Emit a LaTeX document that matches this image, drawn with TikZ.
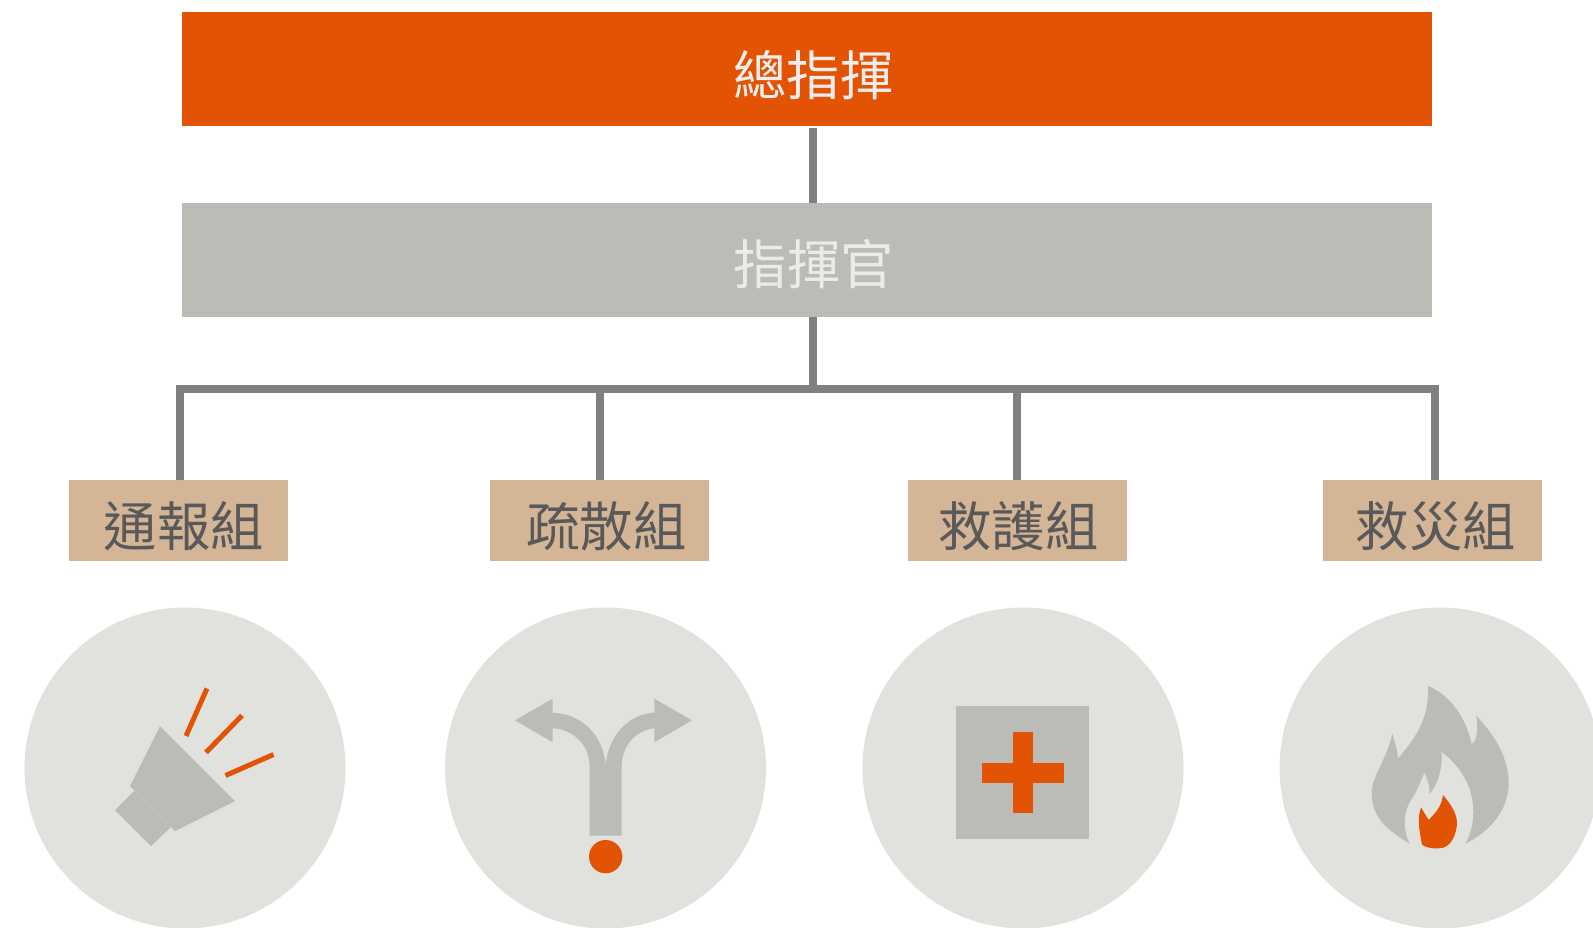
\documentclass[tikz,border=0pt]{standalone}
\usepackage{fontspec}
\setmainfont{Noto Sans CJK TC}
\definecolor{orng}{HTML}{E25303}
\definecolor{stone}{HTML}{BBBCB6}
\definecolor{pale}{HTML}{E1E2DE}
\definecolor{tan}{HTML}{D4B696}
\definecolor{linegray}{HTML}{7F7F7F}
\definecolor{inkgray}{HTML}{595959}
\tikzset{
  bar/.style={draw=none,minimum width=1250pt,minimum height=114pt,inner sep=0pt},
  bartext/.style={inner sep=0pt,font=\fontsize{53.4}{60}\selectfont},
  team/.style={draw=none,fill=tan,minimum width=219pt,minimum height=81pt,inner sep=0pt},
  teamtext/.style={inner sep=0pt,text=inkgray,font=\fontsize{53.4}{60}\selectfont},
  badge/.style={circle,fill=pale,draw=none,minimum size=321pt,inner sep=0pt},
  link/.style={draw=linegray,line width=8pt},
  ray/.style={draw=orng,line width=5pt},
  icon/.style={fill=stone,draw=none},
  accent/.style={fill=orng,draw=none}
}
\begin{document}
\begin{tikzpicture}[x=1pt,y=-1pt]
\useasboundingbox (0,0) rectangle (1593,928);
\clip (0,0) rectangle (1593,928);
\node[bar,fill=orng] (top) at (807,69) {};
\node[bar,fill=stone] (cmd) at (807,260) {};
\node[bartext,text=white!93!black] (toptext) at (813.5,75) {總指揮};
\node[bartext,text=white!92!black] (cmdtext) at (814,264.5) {指揮官};
\node[team,anchor=north west] (a) at (69,480) {};
\node[team,anchor=north west] (b) at (490,480) {};
\node[team,anchor=north west] (c) at (908,480) {};
\node[team,anchor=north west] (d) at (1323,480) {};
\node[teamtext] (at) at (184,526.5) {通報組};
\node[teamtext] (bt) at (606.5,526.5) {疏散組};
\node[teamtext] (ct) at (1018.5,526.5) {救護組};
\node[teamtext] (dt) at (1436,526.5) {救災組};
\coordinate (hub) at (813,389);
\draw[link] (813,128) -- (813,203);
\draw[link] (813,317) -- (hub);
\draw[link,line join=miter] (179.5,480) -- (179.5,389) -- (1434.5,389) -- (1434.5,480);
\draw[link] (599.5,389) -- (599.5,480);
\draw[link] (1017,389) -- (1017,480);
\node[badge] (c1) at (185,768) {};
\node[badge] (c2) at (605.5,768) {};
\node[badge] (c3) at (1023,768) {};
\node[badge] (c4) at (1440,768) {};
% megaphone
\fill[icon] (160,726) -- (235,801) -- (175,831) -- (130,786) -- cycle;
\fill[icon] (134.4,790.8) -- (170.8,827.2) -- (151,846) -- (115,810) -- cycle;
\draw[ray] (186,736) -- (207,688.5);
\draw[ray] (206,752.5) -- (242,715.5);
\draw[ray] (225.5,775.5) -- (273.5,754.5);
% split arrow
\begin{scope}[shift={(440,600)},x=0.3333pt,y=-0.3333pt]
\fill[icon] (225,361) -- (338,296) -- (338,338)
  .. controls (430,342) and (490,410) .. (497,495)
  .. controls (504,410) and (564,342) .. (643,338)
  -- (643,296) -- (756,361) -- (643,427) -- (643,385)
  .. controls (590,390) and (545,435) .. (545,500)
  -- (545,707) -- (449,707) -- (449,500)
  .. controls (449,435) and (400,388) .. (338,385)
  -- (338,427) -- cycle;
\fill[accent] (497,770) circle (50);
\end{scope}
% first aid
\fill[icon] (956,706) rectangle (1089,838.7);
\fill[accent] (1013,732) rectangle (1033,813.3);
\fill[accent] (982,762.7) rectangle (1063.7,782.7);
% flame
\begin{scope}[shift={(1270,600)},x=0.3333pt,y=-0.3333pt]
\fill[icon] (474,258)
  .. controls (530,280) and (585,340) .. (605,432)
  .. controls (622,420) and (625,390) .. (619,348)
  .. controls (680,410) and (716,480) .. (716,550)
  .. controls (716,630) and (660,695) .. (586,731)
  .. controls (615,680) and (615,620) .. (600,570)
  .. controls (585,525) and (550,480) .. (515,456)
  .. controls (518,500) and (505,555) .. (478,582)
  .. controls (480,560) and (473,535) .. (463,518)
  .. controls (450,550) and (438,580) .. (420,605)
  .. controls (400,640) and (398,690) .. (419,731)
  .. controls (350,690) and (305,650) .. (305,580)
  .. controls (305,530) and (345,490) .. (367,402)
  .. controls (375,425) and (382,450) .. (384,476)
  .. controls (430,420) and (480,360) .. (474,258) -- cycle;
\fill[accent] (519,585)
  .. controls (540,610) and (562,640) .. (561,672)
  .. controls (558,705) and (545,735) .. (520,743)
  .. controls (500,748) and (470,745) .. (456,734)
  .. controls (450,700) and (440,660) .. (453,622)
  -- (476,660)
  .. controls (495,640) and (515,620) .. (519,585) -- cycle;
\end{scope}
\end{tikzpicture}
\end{document}
